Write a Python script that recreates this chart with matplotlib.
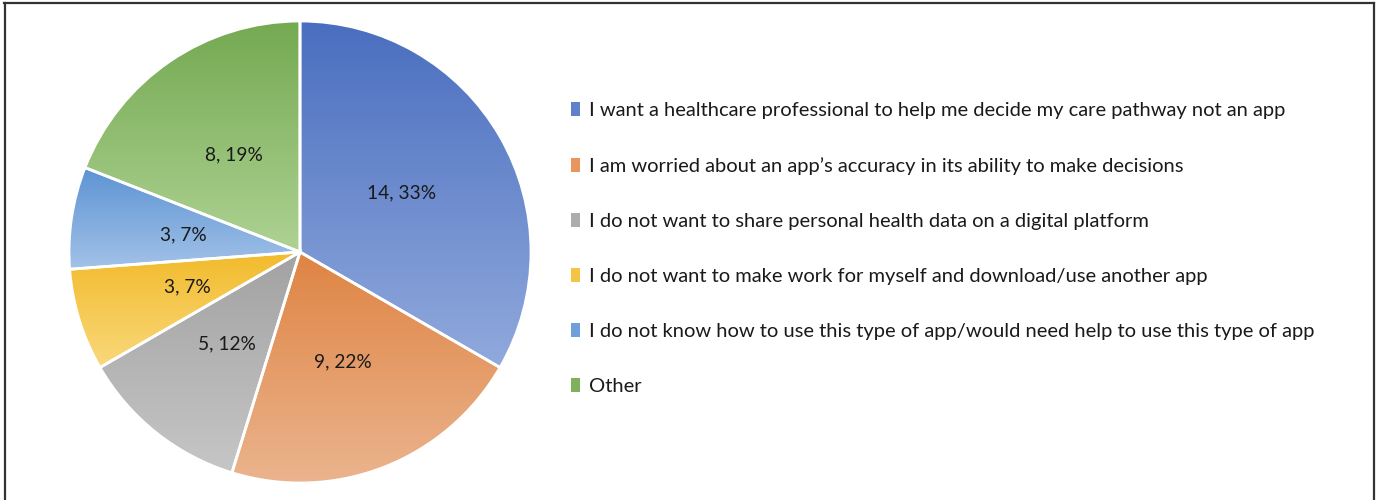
import numpy as np
import matplotlib
matplotlib.use("Agg")
from matplotlib import pyplot as plt
from matplotlib.colors import LinearSegmentedColormap
from matplotlib.lines import Line2D

reasons = [
    "I want a healthcare professional to help me decide my care pathway not an app",
    "I am worried about an app\u2019s accuracy in its ability to make decisions",
    "I do not want to share personal health data on a digital platform",
    "I do not want to make work for myself and download/use another app",
    "I do not know how to use this type of app/would need help to use this type of app",
    "Other",
]
counts = [14, 9, 5, 3, 3, 8]
pct_labels = ["33%", "22%", "12%", "7%", "7%", "19%"]

# gradient top -> bottom for each slice
top_colors = ["#4a6ebf", "#df8443", "#a2a2a2", "#f2bb2c", "#5d93d3", "#74a951"]
bottom_colors = ["#91aadd", "#ebb48e", "#c6c6c6", "#f9d87c", "#a2c2e8", "#aed293"]
mid_colors = ["#5f82cb", "#e8955e", "#acacac", "#f4c444", "#6f9fd8", "#7fb05b"]

plt.rcParams['font.family'] = ['Lato', 'DejaVu Sans']
W, H = 1376, 500
fig = plt.figure(figsize=(W / 100, H / 100), dpi=100)

cx, cy, r = 300, 252, 231
ax = fig.add_axes([(cx - r) / W, (H - cy - r) / H, 2 * r / W, 2 * r / H])

labels_in = [f"{c}, {p}" for c, p in zip(counts, pct_labels)]
wedges, _ = ax.pie(counts, startangle=90, counterclock=False, colors=mid_colors,
                   wedgeprops=dict(linewidth=0))

for w, ct, cb in zip(wedges, top_colors, bottom_colors):
    ext = w.get_path().get_extents(w.get_patch_transform())
    cmap = LinearSegmentedColormap.from_list("g", [cb, ct])
    grad = np.linspace(0, 1, 256).reshape(-1, 1)
    im = ax.imshow(grad, cmap=cmap, origin="lower", aspect="auto",
                   extent=[ext.x0, ext.x1, ext.y0, ext.y1], zorder=2)
    im.set_clip_path(w)

# white separators drawn on top
ax.pie(counts, startangle=90, counterclock=False, colors=["none"] * len(counts),
       wedgeprops=dict(linewidth=2, edgecolor="white", zorder=3, fill=False))

# inside labels
ang = 90.0
total = sum(counts)
for c, txt in zip(counts, labels_in):
    span = 360.0 * c / total
    mid = np.deg2rad(ang - span / 2)
    ax.text(0.51 * np.cos(mid), 0.51 * np.sin(mid), txt, ha="center", va="center",
            fontsize=13.8, color="#1a1a1a", zorder=5)
    ang -= span

ax.set_xlim(-1, 1)
ax.set_ylim(-1, 1)
ax.axis("off")

leg = fig.legend(wedges, reasons, loc="center left",
                 bbox_to_anchor=(571 / W, 1 - 248.5 / H), frameon=False,
                 fontsize=14.5, labelspacing=1.89, handlelength=0.45,
                 handleheight=0.7, handletextpad=0.42, borderpad=0,
                 borderaxespad=0)
for t in leg.get_texts():
    t.set_color("#1a1a1a")

# outer frame (no bottom edge)
lc = "#333333"
fig.add_artist(Line2D([4.5 / W, 4.5 / W], [0, 1 - 3 / H], color=lc, lw=1.6))
fig.add_artist(Line2D([4 / W, 1373.5 / W], [1 - 3 / H, 1 - 3 / H], color=lc, lw=1.6))
fig.add_artist(Line2D([1373.5 / W, 1373.5 / W], [0, 1 - 3 / H], color=lc, lw=1.6))

fig.savefig("out.png", dpi=100, facecolor="white")
